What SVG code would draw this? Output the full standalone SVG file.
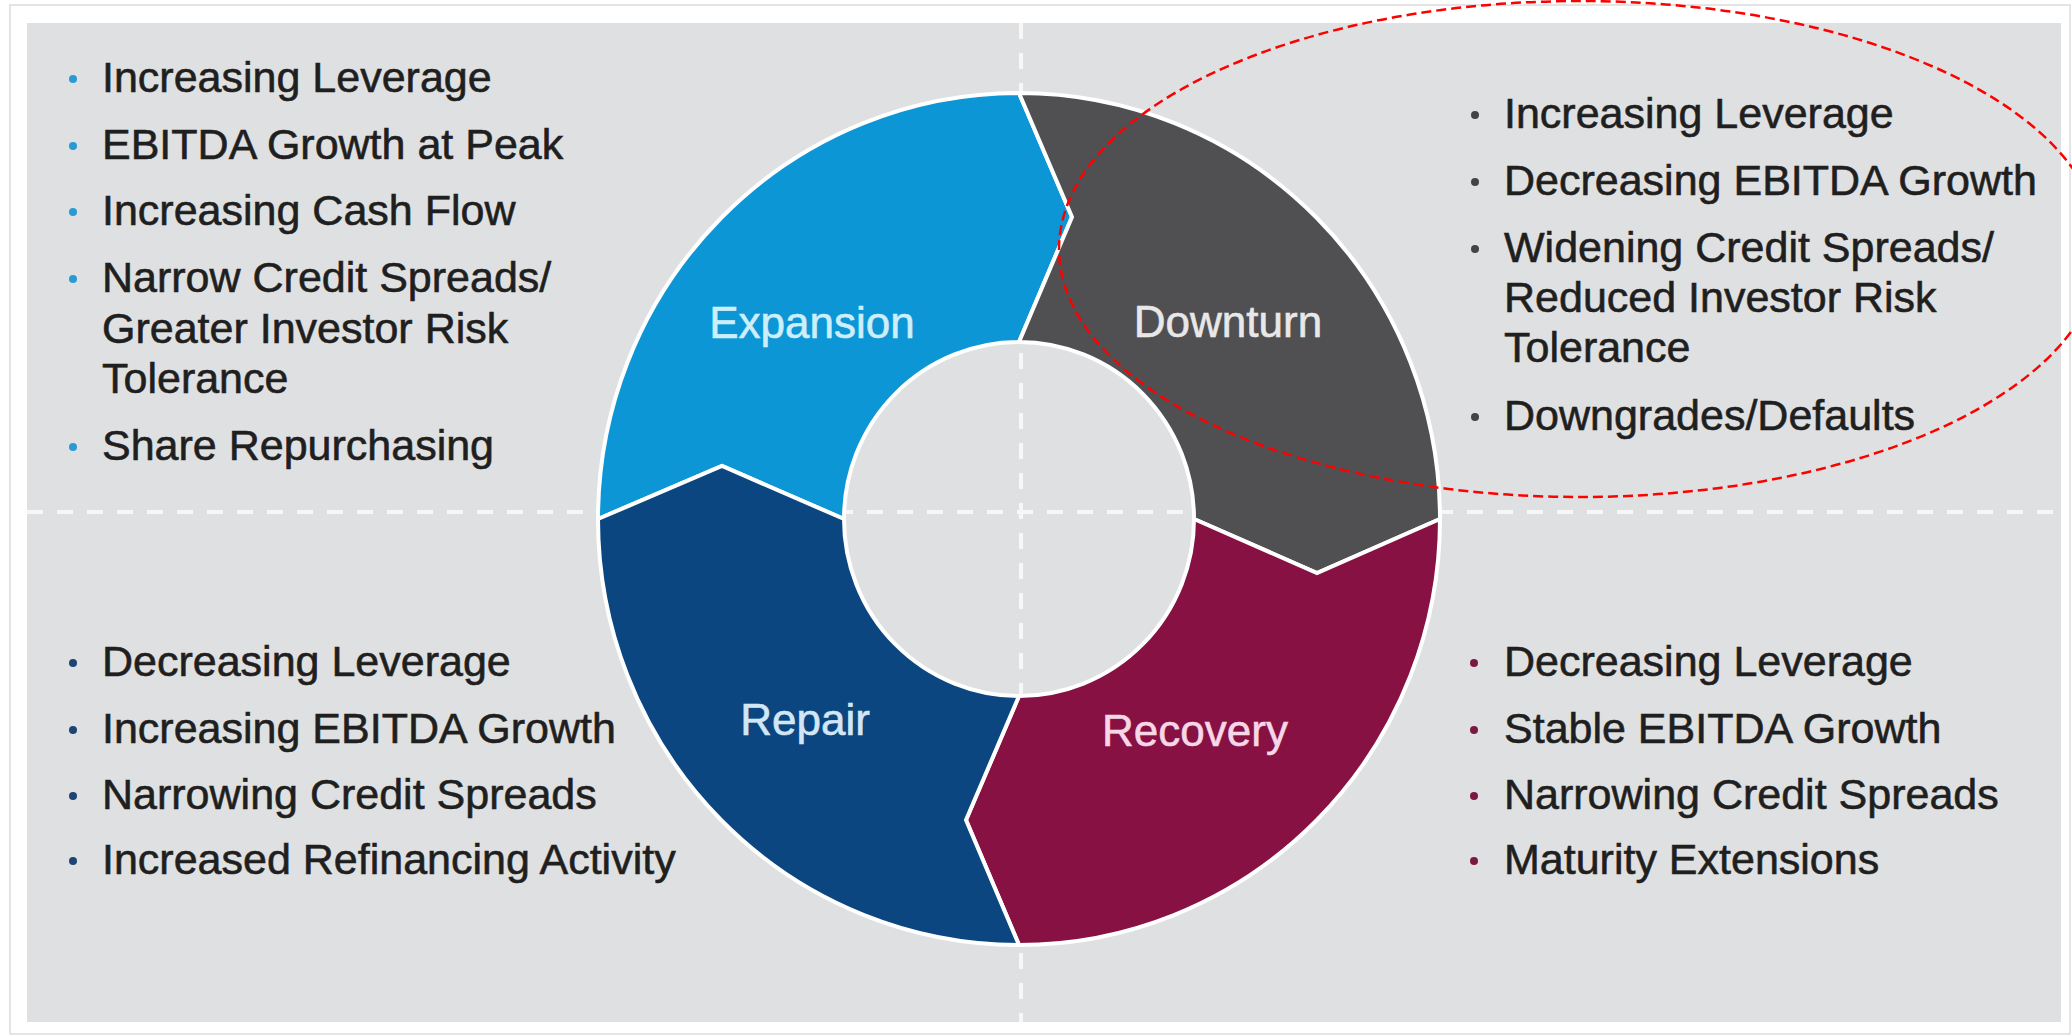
<svg xmlns="http://www.w3.org/2000/svg" width="2072" height="1036" viewBox="0 0 2072 1036">
  <style>
    .bl { font-family: "Liberation Sans", Arial, sans-serif; font-size: 43px; fill: #1f1f1f; stroke: #1f1f1f; stroke-width: 0.6; }
    .lab { font-family: "Liberation Sans", Arial, sans-serif; font-size: 44px; text-anchor: middle; stroke-width: 0.6; }
    .seg { stroke: #ffffff; stroke-width: 4; stroke-linejoin: miter; }
    .div { stroke: #f7f7f7; stroke-width: 4; stroke-dasharray: 16 14; fill: none; }
  </style>
  <rect x="0" y="0" width="2072" height="1036" fill="#ffffff"/>
  <rect x="10" y="5" width="2060" height="1029" fill="#ffffff" stroke="#dcdcdc" stroke-width="1.5"/>
  <rect x="27" y="23" width="2034" height="999" fill="#dfe0e1"/>

  <g id="dividers">
    <line class="div" x1="27" y1="512" x2="2061" y2="512"/>
    <line class="div" x1="1021" y1="23" x2="1021" y2="1022"/>
  </g>

  <g id="expansion">
    <path class="seg" fill="#0d96d6" d="M598,519 A421,426 0 0 1 1019,93 L1072,217 L1019,342 A175,177 0 0 0 844,519 L722,466 Z"/>
    <text class="lab" x="812" y="338" fill="#cdeefb" stroke="#cdeefb">Expansion</text>
  </g>
  <g id="downturn">
    <path class="seg" fill="#505052" d="M1019,93 A421,426 0 0 1 1440,519 L1317,573 L1194,519 A175,177 0 0 0 1019,342 L1072,217 Z"/>
    <text class="lab" x="1228" y="337" fill="#e8e8e8" stroke="#e8e8e8">Downturn</text>
  </g>
  <g id="recovery">
    <path class="seg" fill="#861142" d="M1440,519 A421,426 0 0 1 1019,945 L966,820 L1019,696 A175,177 0 0 0 1194,519 L1317,573 Z"/>
    <text class="lab" x="1195" y="746" fill="#f6d6e7" stroke="#f6d6e7">Recovery</text>
  </g>
  <g id="repair">
    <path class="seg" fill="#0b4680" d="M1019,945 A421,426 0 0 1 598,519 L722,466 L844,519 A175,177 0 0 0 1019,696 L966,820 Z"/>
    <text class="lab" x="805" y="735" fill="#d3e6f6" stroke="#d3e6f6">Repair</text>
  </g>

  <g id="expansion-notes">
    <circle cx="73" cy="79" r="4" fill="#2a9ad4"/>
    <text class="bl" x="102" y="92">Increasing Leverage</text>
    <circle cx="73" cy="146" r="4" fill="#2a9ad4"/>
    <text class="bl" x="102" y="159">EBITDA Growth at Peak</text>
    <circle cx="73" cy="212" r="4" fill="#2a9ad4"/>
    <text class="bl" x="102" y="225">Increasing Cash Flow</text>
    <circle cx="73" cy="279" r="4" fill="#2a9ad4"/>
    <text class="bl" x="102" y="292">Narrow Credit Spreads/</text>
    <text class="bl" x="102" y="343">Greater Investor Risk</text>
    <text class="bl" x="102" y="393">Tolerance</text>
    <circle cx="73" cy="447" r="4" fill="#2a9ad4"/>
    <text class="bl" x="102" y="460">Share Repurchasing</text>
  </g>

  <g id="downturn-notes">
    <circle cx="1475" cy="115" r="4" fill="#444446"/>
    <text class="bl" x="1504" y="128">Increasing Leverage</text>
    <circle cx="1475" cy="182" r="4" fill="#444446"/>
    <text class="bl" x="1504" y="195">Decreasing EBITDA Growth</text>
    <circle cx="1475" cy="249" r="4" fill="#444446"/>
    <text class="bl" x="1504" y="262">Widening Credit Spreads/</text>
    <text class="bl" x="1504" y="312">Reduced Investor Risk</text>
    <text class="bl" x="1504" y="362">Tolerance</text>
    <circle cx="1475" cy="417" r="4" fill="#444446"/>
    <text class="bl" x="1504" y="430">Downgrades/Defaults</text>
  </g>

  <g id="repair-notes">
    <circle cx="73" cy="663" r="4" fill="#1d4472"/>
    <text class="bl" x="102" y="676">Decreasing Leverage</text>
    <circle cx="73" cy="730" r="4" fill="#1d4472"/>
    <text class="bl" x="102" y="743">Increasing EBITDA Growth</text>
    <circle cx="73" cy="796" r="4" fill="#1d4472"/>
    <text class="bl" x="102" y="809">Narrowing Credit Spreads</text>
    <circle cx="73" cy="861" r="4" fill="#1d4472"/>
    <text class="bl" x="102" y="874">Increased Refinancing Activity</text>
  </g>

  <g id="recovery-notes">
    <circle cx="1474" cy="663" r="4" fill="#7a1a42"/>
    <text class="bl" x="1504" y="676">Decreasing Leverage</text>
    <circle cx="1474" cy="730" r="4" fill="#7a1a42"/>
    <text class="bl" x="1504" y="743">Stable EBITDA Growth</text>
    <circle cx="1474" cy="796" r="4" fill="#7a1a42"/>
    <text class="bl" x="1504" y="809">Narrowing Credit Spreads</text>
    <circle cx="1474" cy="861" r="4" fill="#7a1a42"/>
    <text class="bl" x="1504" y="874">Maturity Extensions</text>
  </g>

  <g id="highlight">
    <ellipse cx="1580" cy="249" rx="521" ry="248" fill="none" stroke="#ff0000" stroke-width="2.5" stroke-dasharray="10 5"/>
  </g>
</svg>
